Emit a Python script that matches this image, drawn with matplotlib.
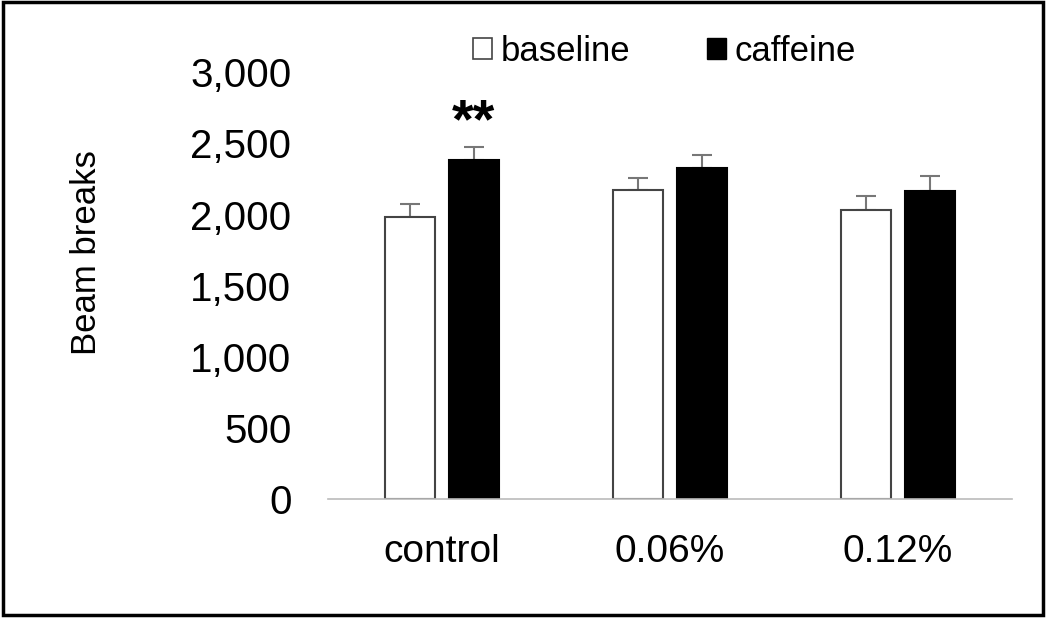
import numpy as np
import matplotlib.pyplot as plt
from matplotlib.patches import Rectangle, Patch

groups = ['control', '0.06%', '0.12%']
baseline = [1985, 2170, 2030]
baseline_err = [90, 90, 100]
caffeine = [2380, 2325, 2165]
caffeine_err = [95, 95, 105]
y_ticks = [0, 500, 1000, 1500, 2000, 2500, 3000]

plt.rcParams['font.family'] = ['Liberation Sans', 'DejaVu Sans']

fig = plt.figure(figsize=(10.5, 6.23), dpi=100)
ax = fig.add_axes([0.312, 0.199, 0.652, 0.685])

x = np.arange(len(groups))
w = 0.22
off = 0.14
ax.bar(x - off, baseline, w, color='white', edgecolor='#444444', linewidth=1.5, zorder=2)
ax.bar(x + off, caffeine, w, color='black', edgecolor='black', linewidth=1.5, zorder=2)

# upper error bars only, drawn behind the bars so the lower cap is hidden
err_style = dict(fmt='none', ecolor='#777777', elinewidth=1.5, capsize=7, capthick=1.5, zorder=1)
ax.errorbar(x - off, baseline, yerr=[np.zeros(3), baseline_err], **err_style)
ax.errorbar(x + off, caffeine, yerr=[np.zeros(3), caffeine_err], **err_style)

# significance mark
ax.text(x[0] + off, caffeine[0] + caffeine_err[0] + 70, '**', ha='center', va='baseline',
        fontsize=40, fontweight='bold')

ax.set_xlim(-0.5, 2.5)
ax.set_ylim(0, 3000)
ax.set_xticks(x)
ax.set_xticklabels(groups, fontsize=28)
ax.set_yticks(y_ticks)
ax.set_yticklabels(['{:,}'.format(v) for v in y_ticks], fontsize=29)
ax.tick_params(length=0)
ax.tick_params(axis='x', pad=25)
ax.tick_params(axis='y', pad=26)
for s in ['top', 'right', 'left']:
    ax.spines[s].set_visible(False)
ax.spines['bottom'].set_color('#bbbbbb')
ax.spines['bottom'].set_linewidth(1.2)

ax.set_ylabel('Beam breaks', fontsize=25)
ax.yaxis.set_label_coords(-0.328, 0.578)

handles = [Patch(facecolor='white', edgecolor='#444444', linewidth=1.2),
           Patch(facecolor='black', edgecolor='black')]
fig.legend(handles, ['baseline', 'caffeine'], loc='center', ncol=2,
           bbox_to_anchor=(0.633, 0.918), frameon=False, fontsize=25,
           handlelength=0.55, handleheight=0.55, handletextpad=0.25, columnspacing=2.2)

fig.patches.append(Rectangle((3 / 1050, 1 - 615 / 623), 1040 / 1050, 613 / 623,
                             transform=fig.transFigure, fill=False,
                             edgecolor='black', linewidth=2.5))

fig.savefig('out.png', dpi=100)
